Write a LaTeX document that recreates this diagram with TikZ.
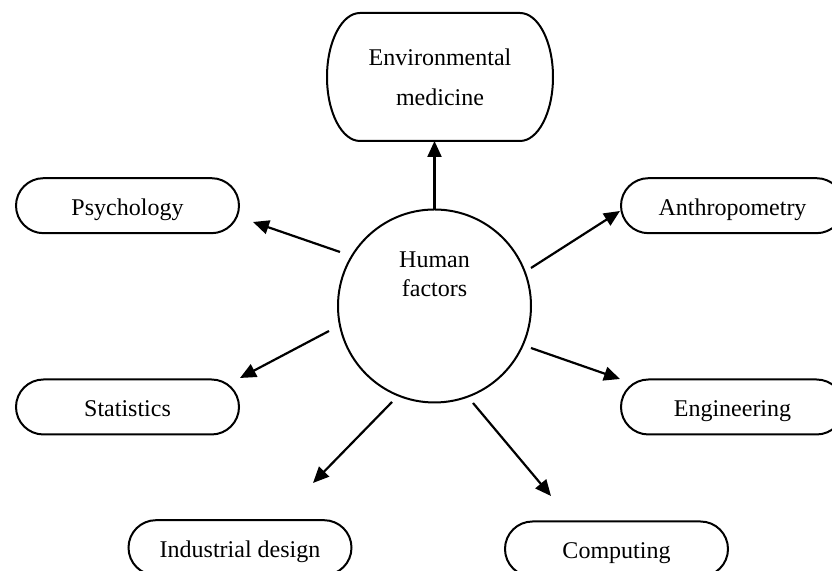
\documentclass[tikz,border=0pt]{standalone}
\usepackage{fontspec}
\setmainfont{Liberation Serif}
\usetikzlibrary{arrows.meta}

% Outline with elliptical ends around a rectangular node
\newcommand\pillframe[3]{% node name, end x radius, end y radius
  \draw[frame] ([xshift=#2]#1.north west) -- ([xshift=-#2]#1.north east)
    arc[start angle=90, end angle=-90, x radius=#2, y radius=#3]
    -- ([xshift=#2]#1.south west)
    arc[start angle=270, end angle=90, x radius=#2, y radius=#3] -- cycle;}

\begin{document}
\begin{tikzpicture}[x=0.5pt, y=0.5pt,
  frame/.style={line width=1pt},
  pill/.style={inner sep=0pt, outer sep=0pt,
    minimum width=111.5pt, minimum height=27.5pt,
    text height=10pt, text depth=0pt,
    font=\fontsize{12}{14.4}\selectfont},
  bigbox/.style={inner sep=0pt, outer sep=0pt,
    minimum width=113pt, minimum height=64pt, align=center,
    font=\fontsize{12}{20}\selectfont},
  hub/.style={circle, draw, line width=1pt, minimum size=96.5pt,
    inner sep=0pt, outer sep=0pt},
  hubtext/.style={align=center, inner sep=0pt,
    font=\fontsize{12}{14.4}\selectfont},
  link/.style={line width=1.1pt, -{Triangle[length=8pt, width=7pt]}}]

\useasboundingbox[fill=white] (0,0) rectangle (832,571);
\clip (0,0) rectangle (832,571);

% central circle
\node[hub] (hf) at (434.5,265) {};
\node[hubtext] (hftext) at (434.5,296.5) {Human\\factors};

% surrounding topics
\node[bigbox] (env) at (440,494) {Environmental\\medicine};
\pillframe{env}{16.5pt}{32pt}

\node[pill] (psy) at (127.5,365.3) {Psychology};
\pillframe{psy}{13.75pt}{13.75pt}

\node[pill] (anth) at (732.5,365.3) {Anthropometry};
\pillframe{anth}{13.75pt}{13.75pt}

\node[pill] (stat) at (127.5,164) {Statistics};
\pillframe{stat}{13.75pt}{13.75pt}

\node[pill] (eng) at (732.5,164) {Engineering};
\pillframe{eng}{13.75pt}{13.75pt}

\node[pill] (ind) at (240,23.3) {Industrial design};
\pillframe{ind}{13.75pt}{13.75pt}

\node[pill] (comp) at (616.5,22) {Computing};
\pillframe{comp}{13.75pt}{13.75pt}

% arrow end points
\coordinate (psyA) at (340,319);  \coordinate (psyB) at (253,349);
\coordinate (anthA) at (531,303); \coordinate (anthB) at (620,360);
\coordinate (statA) at (329,240); \coordinate (statB) at (240,193);
\coordinate (engA) at (531,223);  \coordinate (engB) at (620,192);
\coordinate (indA) at (392,169);  \coordinate (indB) at (313,88);
\coordinate (compA) at (473,168); \coordinate (compB) at (551,75);

% connectors
\draw[link] (hf.north) -- (hf.north |- env.south);
\draw[link] (psyA) -- (psyB);
\draw[link] (anthA) -- (anthB);
\draw[link] (statA) -- (statB);
\draw[link] (engA) -- (engB);
\draw[link] (indA) -- (indB);
\draw[link] (compA) -- (compB);
\end{tikzpicture}
\end{document}
